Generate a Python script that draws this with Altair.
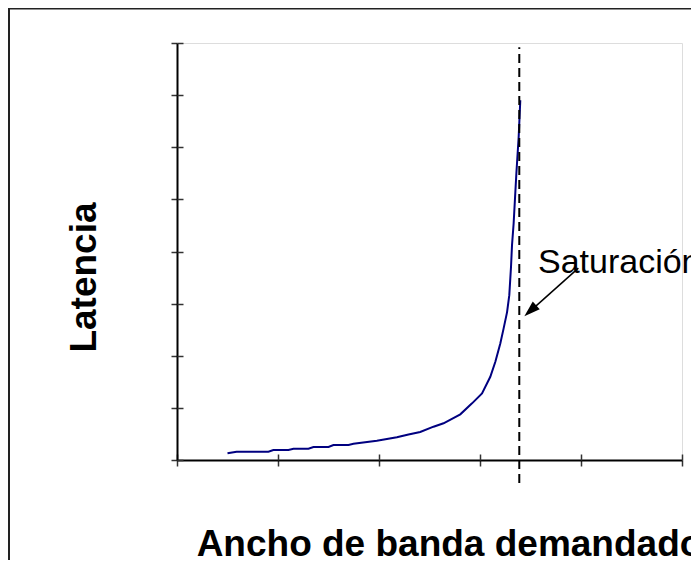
import altair as alt
import pandas as pd

# curve: bandwidth demanded (x) vs latency (y)
bw = [0.50, 0.59, 0.72, 0.905, 0.954, 1.103, 1.153, 1.301, 1.351, 1.500, 1.549, 1.698,
      1.747, 1.979, 2.177, 2.292, 2.408, 2.540, 2.639, 2.805, 2.921, 3.020, 3.102, 3.152,
      3.201, 3.234, 3.268, 3.290, 3.307, 3.317, 3.333, 3.360, 3.383, 3.399]
lat = [0.128, 0.159, 0.159, 0.159, 0.192, 0.192, 0.217, 0.217, 0.249, 0.249, 0.288, 0.288,
       0.312, 0.370, 0.435, 0.489, 0.537, 0.639, 0.704, 0.876, 1.087, 1.278, 1.597, 1.885,
       2.237, 2.525, 2.837, 3.163, 3.706, 4.122, 4.538, 5.497, 6.198, 6.902]

x_ticks = [0, 1, 2, 3, 4, 5]
y_ticks = [0, 1, 2, 3, 4, 5, 6, 7, 8]

sat_x = [3.389]
sat_y = [-0.44]
sat_y2 = [7.92]

label_text = ["Saturación"]
label_x = [3.574]
label_y = [3.58]

arrow_x = [3.974, 3.50]
arrow_y = [3.681, 2.86]
head_x = [3.498]
head_y = [2.862]

x_title = "Ancho de banda demandado"
y_title = "Latencia"

FONT = "Liberation Sans"

df = pd.DataFrame({"x": bw, "y": lat})
xs = alt.Scale(domain=[0, 5], nice=False, zero=False)
ys = alt.Scale(domain=[0, 8], nice=False, zero=False)

main_x_axis = alt.Axis(values=x_ticks, labels=False, tickSize=6, tickColor="#333",
                       tickWidth=1.5, domainColor="#000", domainWidth=2, grid=False,
                       title=x_title, titleFont=FONT, titleFontSize=37,
                       titleFontWeight="bold", titleColor="#000", titleX=272, titleY=95,
                       titleAlign="center", titleBaseline="alphabetic")
main_y_axis = alt.Axis(values=y_ticks, labels=False, tickSize=6, tickColor="#333",
                       tickWidth=1.5, domainColor="#000", domainWidth=2, grid=False,
                       title=y_title, titleFont=FONT, titleFontSize=37,
                       titleFontWeight="bold", titleColor="#000", titleAngle=270,
                       titleX=-82, titleY=234, titleAlign="center",
                       titleBaseline="alphabetic")
inner_x_axis = alt.Axis(orient="bottom", offset=-6, values=x_ticks, labels=False,
                        tickSize=6, tickColor="#333", tickWidth=1.5, domain=False,
                        grid=False, title=None)
inner_y_axis = alt.Axis(orient="left", offset=-6, values=y_ticks, labels=False,
                        tickSize=6, tickColor="#333", tickWidth=1.5, domain=False,
                        grid=False, title=None)

curve = alt.Chart(df).mark_line(color="#000080", strokeWidth=2).encode(
    x=alt.X("x:Q", scale=xs, axis=main_x_axis),
    y=alt.Y("y:Q", scale=ys, axis=main_y_axis),
)
inner = alt.Chart(df).mark_line(opacity=0).encode(
    x=alt.X("x:Q", scale=xs, axis=inner_x_axis),
    y=alt.Y("y:Q", scale=ys, axis=inner_y_axis),
)

rule_df = pd.DataFrame({"x": sat_x, "y": sat_y, "y2": sat_y2})
dashed = alt.Chart(rule_df).mark_rule(color="#000", strokeWidth=2,
                                      strokeDash=[9, 5], clip=False).encode(
    x=alt.X("x:Q", scale=xs, axis=None),
    y=alt.Y("y:Q", scale=ys, axis=None),
    y2="y2:Q",
)

arrow_df = pd.DataFrame({"x": arrow_x, "y": arrow_y})
arrow = alt.Chart(arrow_df).mark_line(color="#000", strokeWidth=1.5, clip=False).encode(
    x=alt.X("x:Q", scale=xs, axis=None),
    y=alt.Y("y:Q", scale=ys, axis=None),
)
head_df = pd.DataFrame({"x": head_x, "y": head_y})
head = alt.Chart(head_df).mark_point(shape="M0,-1L0.65,1L-0.65,1Z", filled=True,
                                     color="#000", size=256, angle=228, opacity=1,
                                     clip=False).encode(
    x=alt.X("x:Q", scale=xs, axis=None),
    y=alt.Y("y:Q", scale=ys, axis=None),
)

label_df = pd.DataFrame({"x": label_x, "y": label_y, "t": label_text})
label = alt.Chart(label_df).mark_text(align="left", baseline="alphabetic", font=FONT,
                                      fontSize=34, color="#000", clip=False).encode(
    x=alt.X("x:Q", scale=xs, axis=None),
    y=alt.Y("y:Q", scale=ys, axis=None),
    text="t:N",
)

frame = alt.Chart(pd.DataFrame({"a": [0]})).mark_rect(
    fill=None, stroke="#222", strokeWidth=2, clip=False).encode(
    x=alt.value(-168), x2=alt.value(700), y=alt.value(-34.5), y2=alt.value(800)
)

chart = alt.layer(curve, inner, dashed, arrow, head, label, frame).resolve_axis(
    x="independent", y="independent"
).properties(
    width=505, height=417,
    autosize=alt.AutoSizeParams(type="none"),
    padding={"left": 169, "top": 35, "right": 9, "bottom": 100},
).configure_view(stroke="#999", strokeWidth=2).configure(background="white")

chart.save("out.html", embed_options={"renderer": "svg", "actions": False})
